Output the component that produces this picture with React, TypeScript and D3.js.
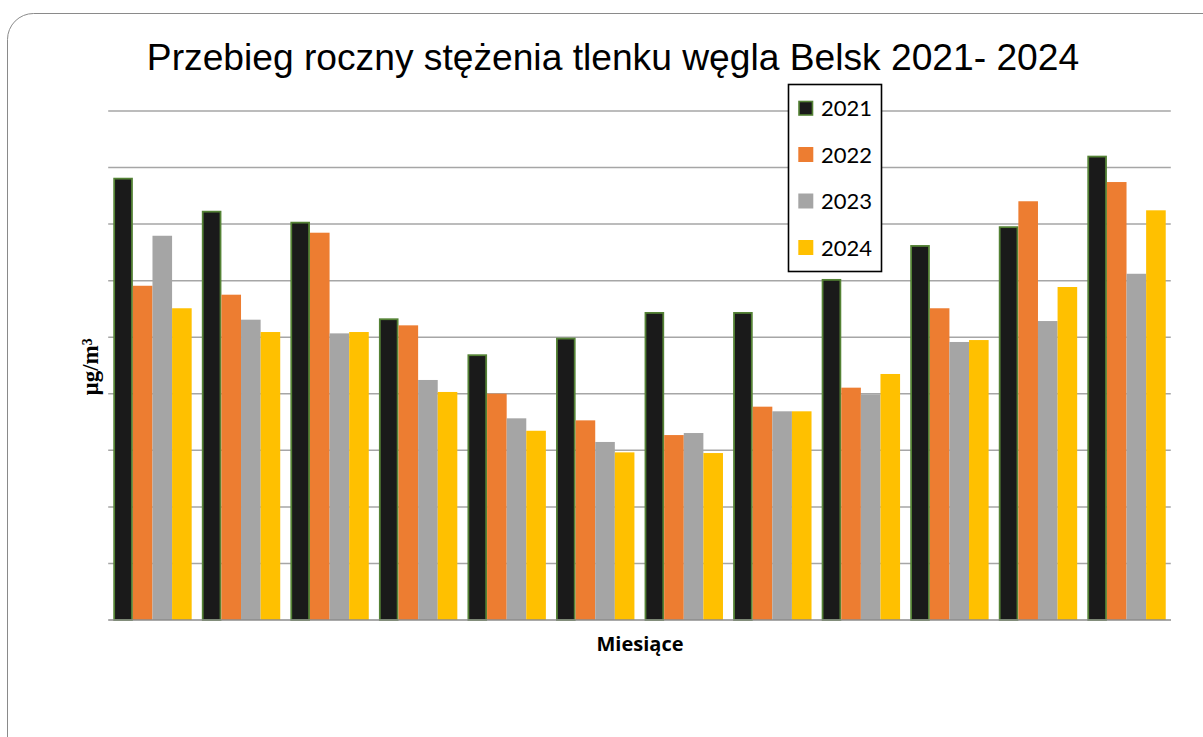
import React from "react";
import * as d3 from "d3";

const months = ["I", "II", "III", "IV", "V", "VI", "VII", "VIII", "IX", "X", "XI", "XII"];
const years = ["2021", "2022", "2023", "2024"];
const v2021 = [391.0, 361.8, 352.1, 266.7, 234.9, 249.6, 272.3, 272.3, 301.5, 331.5, 348.1, 410.5];
const v2022 = [295.5, 287.6, 342.4, 260.5, 200.1, 176.5, 163.5, 188.6, 205.4, 275.6, 370.2, 387.2];
const v2023 = [339.7, 265.5, 253.4, 212.2, 178.3, 157.4, 165.3, 184.5, 199.5, 245.8, 264.3, 306.1];
const v2024 = [275.6, 254.6, 254.6, 201.6, 167.3, 148.2, 147.6, 184.5, 217.5, 247.5, 294.4, 362.2];
const yTicks = [0, 50, 100, 150, 200, 250, 300, 350, 400, 450];
const seriesValues = [v2021, v2022, v2023, v2024];
const colors = ["#1a1a1a", "#ED7D31", "#A5A5A5", "#FFC000"];

const W = 1203;
const H = 737;

export default function App() {
  const x = d3
    .scaleBand<string>()
    .domain(months)
    .range([108.2, 1170.8])
    .paddingInner(0.1146)
    .paddingOuter(0.0573);
  const xs = d3.scaleBand<string>().domain(years).range([0, x.bandwidth()]).padding(0);
  const y = d3.scaleLinear().domain([0, 450]).range([620, 111]);

  return (
    <svg
      width={W}
      height={H}
      style={{ position: "fixed", left: 0, top: 0, background: "#fff" }}
    >
      <rect x={7.5} y={13.5} width={1240} height={780} rx={26} ry={26} fill="#fff" stroke="#8a8a8a" strokeWidth={1} />
      <text
        x={613}
        y={70}
        textAnchor="middle"
        fontFamily="'Liberation Sans', Arial, sans-serif"
        fontSize={37.2}
        fill="#000"
      >
        Przebieg roczny stężenia tlenku węgla Belsk 2021- 2024
      </text>
      {yTicks.filter((t) => t > 0).map((t) => (
        <line key={t} x1={108.2} x2={1170.8} y1={y(t)} y2={y(t)} stroke="#a6a6a6" strokeWidth={1.5} />
      ))}
      {months.map((m, i) => (
        <g key={m} transform={`translate(${x(m)},0)`}>
          {years.map((yr, s) => {
            const v = seriesValues[s][i];
            const bx = xs(yr)!;
            const bw = xs.bandwidth();
            if (s === 0) {
              return (
                <rect
                  key={yr}
                  x={bx + 0.9}
                  y={y(v) + 0.9}
                  width={bw - 1.8}
                  height={y(0) - y(v) - 0.9}
                  fill={colors[s]}
                  stroke="#548235"
                  strokeWidth={1.8}
                />
              );
            }
            return <rect key={yr} x={bx} y={y(v)} width={bw} height={y(0) - y(v)} fill={colors[s]} />;
          })}
        </g>
      ))}
      <line x1={108.2} x2={1171} y1={y(0)} y2={y(0)} stroke="#8c8c8c" strokeWidth={1.5} />
      <text
        transform={`translate(98,367) rotate(-90)`}
        textAnchor="middle"
        fontFamily="'Liberation Serif', 'Times New Roman', serif"
        fontWeight="bold"
        fontSize={23}
        fill="#000"
      >
        µg/m³
      </text>
      <text
        x={640}
        y={651}
        textAnchor="middle"
        fontFamily="'Open Sans', Lato, sans-serif"
        fontWeight="bold"
        fontSize={20}
        fill="#000"
      >
        Miesiące
      </text>
      <g>
        <rect x={788.5} y={84.5} width={93} height={187} fill="#fff" stroke="#000" strokeWidth={1.6} />
        {years.map((yr, s) => {
          const cy = 108 + s * 46.5;
          return (
            <g key={yr}>
              <rect
                x={s === 0 ? 799 : 798.3}
                y={s === 0 ? cy - 6.5 : cy - 7.5}
                width={s === 0 ? 13.5 : 15}
                height={s === 0 ? 13.5 : 15}
                fill={colors[s]}
                stroke={s === 0 ? "#548235" : "none"}
                strokeWidth={1.6}
              />
              <text x={821} y={cy + 8} fontFamily="Lato, 'Open Sans', sans-serif" fontSize={22} fill="#000">
                {yr}
              </text>
            </g>
          );
        })}
      </g>
    </svg>
  );
}
